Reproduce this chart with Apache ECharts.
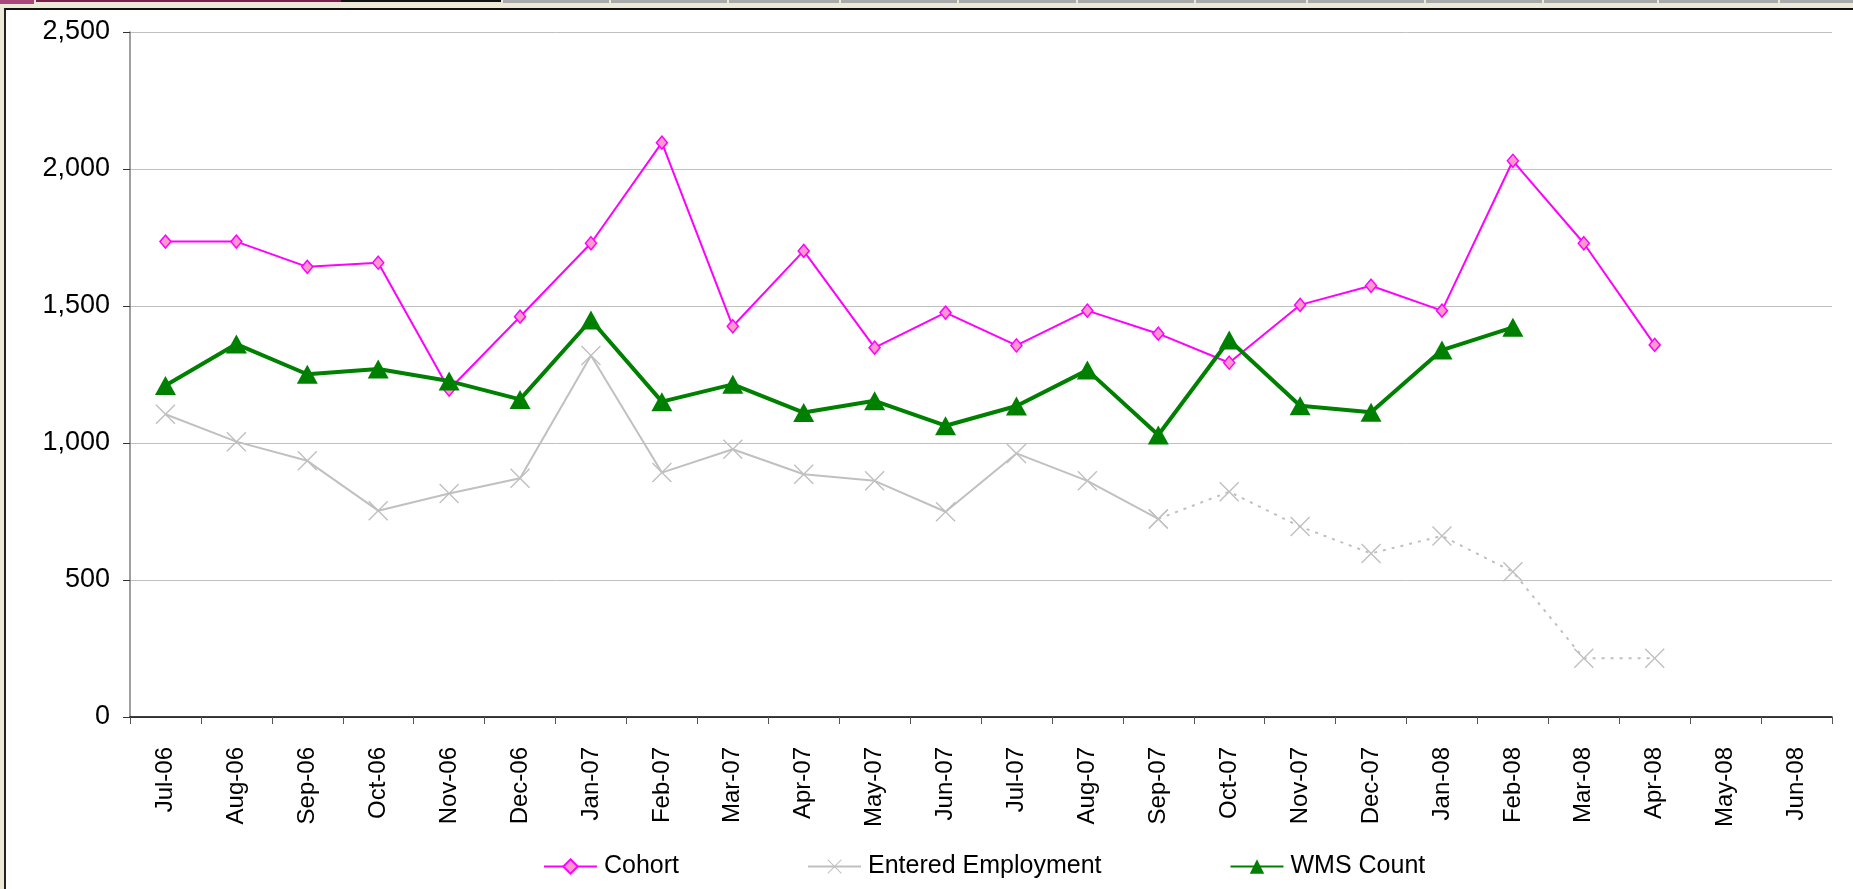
<!DOCTYPE html>
<html lang="en">
<head>
<meta charset="UTF-8">
<title>Cohort / Entered Employment / WMS Count</title>
<script src="https://cdn.jsdelivr.net/npm/echarts@6/dist/echarts.min.js"></script>
<style>
  html, body { margin: 0; padding: 0; background: #ECE9D8; overflow: hidden; }
  #frame { position: absolute; left: 4px; top: 8px; width: 1849px; height: 881px; background: #fff;
           border-left: 2px solid #222; border-top: 2px solid #111; box-sizing: border-box; }
  .strip { position: absolute; top: 0; height: 3px; }
  #main { position: absolute; left: 0; top: 0; width: 1853px; height: 889px; }
</style>
</head>
<body>
<div id="frame"></div>
<div class="strip" style="left:0;width:34px;height:4px;background:#A8457A"></div>
<div class="strip" style="left:36px;width:305px;height:2px;background:#7A1E4E"></div>
<div class="strip" style="left:341px;width:160px;height:2px;background:#111"></div>
<div id="tabs"></div>
<div id="main"></div>

<script>
// data
var months = ['Jul-06', 'Aug-06', 'Sep-06', 'Oct-06', 'Nov-06', 'Dec-06',
              'Jan-07', 'Feb-07', 'Mar-07', 'Apr-07', 'May-07', 'Jun-07',
              'Jul-07', 'Aug-07', 'Sep-07', 'Oct-07', 'Nov-07', 'Dec-07',
              'Jan-08', 'Feb-08', 'Mar-08', 'Apr-08', 'May-08', 'Jun-08'];

var cohort = [1735, 1735, 1643, 1658, 1195, 1461, 1729, 2096, 1426, 1701, 1348, 1476,
              1356, 1483, 1399, 1293, 1504, 1574, 1483, 2030, 1729, 1358, null, null];

var entered = [1105, 1005, 935, 753, 816, 871, 1319, 892, 977, 886, 862, 749,
               962, 862, 723, 822, 695, 597, 661, 530, 214, 214, null, null];

var wmsCount = [1210, 1361, 1251, 1270, 1226, 1159, 1449, 1151, 1214, 1111, 1154, 1063,
                1135, 1266, 1029, 1376, 1136, 1112, 1339, 1422, null, null, null, null];

// entered employment is solid up to Sep-07, dotted after
var lastActual = 14;

// tab separators in the top strip (window decoration)
var tabEdges = [501, 609, 727, 839, 957, 1076, 1194, 1306, 1424, 1542, 1657, 1778, 1853];
var tabs = document.getElementById('tabs');
for (var t = 0; t < tabEdges.length - 1; t++) {
    var d = document.createElement('div');
    d.className = 'strip';
    d.style.left = (tabEdges[t] + 2) + 'px';
    d.style.width = (tabEdges[t + 1] - tabEdges[t] - 2) + 'px';
    d.style.background = '#A9A9A9';
    tabs.appendChild(d);
}

var enteredSolid = entered.map(function (v, i) { return i <= lastActual ? v : null; });
var enteredDotted = entered.map(function (v, i) { return i >= lastActual ? v : null; });

var xMark = 'path://M0,1L1,0L10,9L19,0L20,1L11,10L20,19L19,20L10,11L1,20L0,19L9,10Z';
var font = 'Liberation Sans, Arial, sans-serif';

var myChart = echarts.init(document.getElementById('main'));

myChart.setOption({
    animation: false,
    grid: { left: 130, right: 21, top: 32, bottom: 172 },
    legend: {
        data: ['Cohort', 'Entered Employment', 'WMS Count'],
        left: 538,
        top: 849,
        itemWidth: 53,
        itemHeight: 18,
        itemGap: 128,
        textStyle: { fontFamily: font, fontSize: 25, color: '#000', padding: [0, 0, 0, 2] }
    },
    xAxis: {
        type: 'category',
        data: months,
        boundaryGap: true,
        axisLine: { lineStyle: { color: '#000', width: 1.5 } },
        axisTick: { show: true, length: 7, lineStyle: { color: '#555' } },
        axisLabel: {
            rotate: 90,
            margin: 30,
            interval: 0,
            fontFamily: font,
            fontSize: 24,
            color: '#000'
        }
    },
    yAxis: {
        type: 'value',
        min: 0,
        max: 2500,
        interval: 500,
        axisLine: { show: true, lineStyle: { color: '#808080', width: 1.5 } },
        axisTick: { show: true, length: 7, lineStyle: { color: '#333' } },
        splitLine: { lineStyle: { color: '#C0C0C0', width: 1 } },
        axisLabel: {
            margin: 20,
            fontFamily: font,
            fontSize: 27,
            color: '#000',
            formatter: function (v) { return v.toLocaleString('en-US'); }
        }
    },
    series: [
        {
            name: 'Cohort',
            type: 'line',
            data: cohort,
            symbol: 'diamond',
            symbolSize: [11, 13],
            showAllSymbol: true,
            lineStyle: { color: '#FF00FF', width: 2 },
            itemStyle: { color: '#FF99CC', borderColor: '#FF00FF', borderWidth: 1.5 }
        },
        {
            name: 'Entered Employment',
            type: 'line',
            data: enteredSolid,
            symbol: xMark,
            symbolSize: 20,
            showAllSymbol: true,
            lineStyle: { color: '#C0C0C0', width: 2 },
            itemStyle: { color: '#C0C0C0' }
        },
        {
            name: 'Entered Employment',
            type: 'line',
            data: enteredDotted,
            symbol: xMark,
            symbolSize: 20,
            showAllSymbol: true,
            lineStyle: { color: '#C0C0C0', width: 2, type: [3, 6] },
            itemStyle: { color: '#C0C0C0' }
        },
        {
            name: 'WMS Count',
            type: 'line',
            data: wmsCount,
            symbol: 'triangle',
            symbolSize: [21, 19],
            showAllSymbol: true,
            lineStyle: { color: '#008000', width: 4 },
            itemStyle: { color: '#008000' }
        }
    ]
});
</script>
</body>
</html>
